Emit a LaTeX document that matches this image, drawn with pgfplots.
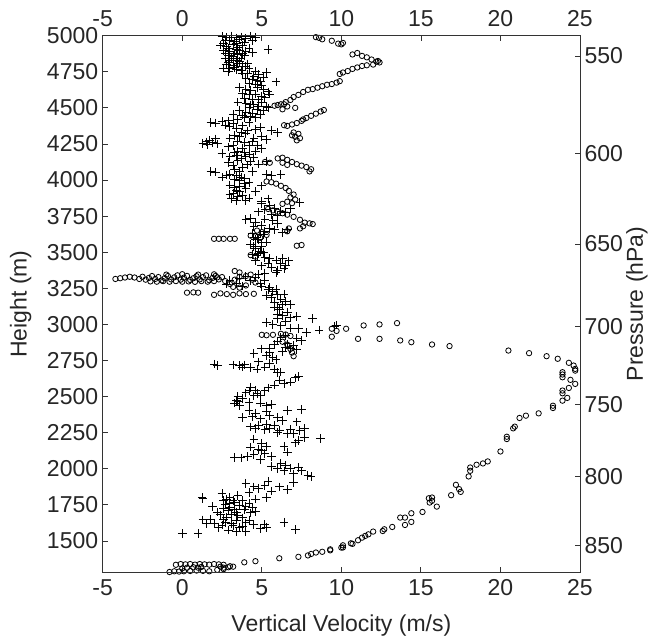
\documentclass[border=0pt]{standalone}
\usepackage{pgfplots}
\usepackage{pgfplotstable}
\pgfplotsset{compat=1.18}
\usepackage{fontspec}
\setmainfont{Liberation Sans}

\pgfplotstableread{
x y
2.5 4995
2.8 4990
3.1 4998
3.4 4985
3.7 4992
4.0 4980
4.3 4996
4.6 4988
2.7 4965
3.0 4970
3.3 4960
3.9 4955
4.4 4965
2.4 4935
2.8 4925
3.2 4940
3.5 4920
3.8 4930
5.4 4905
4.2 4910
2.6 4895
3.0 4890
3.3 4880
3.6 4900
2.9 4865
3.2 4855
3.5 4870
3.9 4860
4.4 4885
2.7 4840
3.0 4830
3.4 4825
3.7 4845
2.8 4800
3.2 4795
3.5 4810
3.8 4790
4.1 4805
2.6 4775
3.0 4770
3.3 4780
3.7 4760
4.2 4770
4.6 4755
2.9 4752
3.8 4740
4.1 4735
4.5 4720
4.8 4730
5.3 4745
4.0 4705
4.4 4700
4.7 4690
5.1 4710
5.9 4680
4.2 4670
4.6 4665
5.0 4655
4.9 4685
3.6 4640
4.0 4630
4.3 4620
4.7 4640
5.1 4625
5.4 4610
3.8 4600
4.2 4590
4.6 4595
5.0 4580
5.5 4595
3.9 4565
4.4 4560
4.8 4555
5.2 4570
3.5 4540
4.0 4530
4.5 4520
5.0 4540
5.3 4510
4.2 4500
4.7 4490
5.1 4485
5.4 4500
3.6 4480
4.0 4470
4.4 4460
4.9 4455
3.2 4455
1.8 4400
2.1 4395
2.5 4405
2.9 4410
3.2 4390
3.5 4420
3.9 4435
4.3 4440
2.7 4380
3.0 4370
3.4 4360
3.8 4375
4.6 4350
4.9 4365
5.6 4345
6.0 4330
4.2 4400
3.3 4310
3.6 4300
4.0 4320
4.5 4290
5.0 4300
5.3 4280
3.5 4270
3.9 4260
4.4 4265
1.3 4255
1.5 4265
1.7 4275
1.9 4260
2.1 4285
2.2 4250
1.6 4245
2.5 4185
2.9 4230
3.2 4240
3.5 4200
3.8 4220
4.2 4180
4.6 4200
3.0 4160
3.4 4170
3.7 4150
4.0 4165
4.5 4155
5.0 4220
2.9 4120
3.2 4100
3.5 4135
3.8 4085
4.1 4105
4.4 4060
4.8 4110
5.3 4130
3.3 4070
3.6 4060
1.8 4060
2.1 4055
2.5 4020
2.8 4035
3.3 4005
3.6 3995
3.9 4010
5.3 4040
5.6 4030
6.2 4040
3.0 3965
3.3 3945
3.6 3955
3.9 3975
4.2 3985
5.0 3960
3.2 3905
3.5 3885
3.8 3895
4.2 3875
4.6 3920
3.4 3930
3.0 3900
4.0 3860
5.0 3850
5.4 3870
5.0 3835
5.5 3825
5.2 3795
5.8 3805
6.2 3785
6.5 3775
7.4 3845
5.6 3760
6.0 3755
6.8 3800
4.8 3780
4.0 3725
4.3 3735
4.6 3705
5.0 3685
5.5 3665
5.8 3655
6.3 3635
6.6 3655
5.2 3645
4.9 3625
4.5 3680
6.0 3700
4.5 3605
4.8 3585
5.0 3565
4.3 3555
4.6 3590
5.1 3620
4.4 3630
4.6 3525
4.9 3505
4.4 3485
4.7 3475
5.2 3465
5.5 3455
4.5 3540
5.0 3540
5.9 3445
6.3 3455
6.7 3440
6.5 3410
5.0 3405
5.6 3395
6.0 3375
6.4 3385
5.2 3355
4.8 3345
5.4 3425
3.0 3305
3.4 3285
3.8 3265
4.3 3305
4.6 3325
4.9 3285
5.2 3305
5.5 3255
4.0 3330
3.6 3320
2.8 3280
5.7 3225
6.0 3205
5.6 3185
6.2 3175
5.8 3155
5.4 3240
6.4 3210
6.3 3135
6.1 3105
6.6 3085
5.8 3120
6.8 3140
7.2 3055
6.0 3070
6.0 3040
6.3 3060
6.8 3045
5.3 3015
5.7 3000
6.2 2990
8.2 3040
9.7 2995
9.6 2985
8.6 2960
7.8 2945
7.3 2970
6.8 2975
7.2 2905
6.5 2920
6.0 2885
6.6 2865
7.0 2855
5.5 2835
7.5 2890
6.2 2910
5.8 2860
6.5 2840
6.8 2830
7.2 2825
5.0 2830
5.3 2785
5.7 2770
5.9 2755
4.5 2800
6.3 2810
5.5 2805
2.0 2725
2.2 2715
3.2 2720
3.6 2715
3.8 2705
4.3 2700
4.7 2690
5.2 2705
6.0 2665
6.2 2670
5.8 2690
7.1 2630
7.3 2640
6.8 2600
6.4 2590
5.8 2580
5.4 2560
4.3 2565
4.6 2545
6.1 2615
4.0 2525
4.5 2505
4.2 2540
3.5 2465
3.3 2455
3.8 2485
4.9 2455
5.3 2435
5.6 2445
4.7 2520
3.4 2475
4.2 2405
4.6 2385
3.8 2355
6.6 2405
7.5 2410
6.0 2355
6.3 2335
7.2 2325
5.3 2395
4.4 2360
5.5 2370
5.3 2310
4.8 2300
5.5 2280
6.1 2265
6.6 2245
5.8 2300
6.8 2275
4.3 2290
7.0 2245
7.4 2265
7.7 2280
4.6 2280
5.2 2270
6.0 2250
7.3 2195
7.7 2215
8.7 2210
4.5 2205
5.0 2175
5.3 2155
6.4 2155
7.1 2180
4.3 2150
4.8 2135
5.2 2105
6.6 2115
3.3 2080
3.7 2075
4.1 2085
4.9 2065
5.6 2085
4.5 2100
5.0 2125
6.2 2035
6.5 2025
6.8 2005
5.6 2015
6.4 1985
7.0 1965
7.5 1985
7.9 1955
8.1 1945
7.3 2010
6.0 2000
5.2 1885
4.8 1865
5.6 1845
6.1 1875
6.6 1855
4.5 1875
4.2 1835
5.4 1910
4.0 1900
7.0 1905
5.3 1800
3.5 1815
3.0 1800
2.6 1780
2.8 1790
1.3 1796
1.25 1800
3.3 1765
3.6 1745
3.8 1780
4.2 1760
4.6 1790
2.5 1830
3.0 1735
2.6 1725
3.9 1715
4.3 1695
4.6 1705
3.1 1685
3.5 1675
2.8 1665
2.2 1700
3.3 1720
4.0 1740
2.9 1710
1.9 1740
3.4 1645
2.7 1625
3.2 1605
3.6 1595
4.0 1625
4.5 1615
4.9 1585
5.2 1615
6.4 1630
7.1 1580
1.3 1646
1.8 1650
1.5 1620
2.3 1595
2.9 1575
3.4 1565
4.0 1565
0.0 1550
1.0 1550
5.3 1595
2.5 1610
2.6 4945
3.4 4945
3.6 4975
2.9 4910
3.4 4905
4.0 4890
2.7 4880
3.8 4875
3.1 4845
3.6 4820
2.9 4815
3.4 4765
4.0 4785
4.3 4520
4.8 4510
3.8 4450
4.6 4430
4.1 4340
3.7 4330
3.0 4290
4.2 4240
4.7 4240
3.3 4190
3.9 4190
4.3 4130
3.0 4040
3.4 4030
3.7 4020
4.0 3940
3.6 3920
3.1 3870
3.4 3860
5.2 3730
5.7 3720
4.7 3600
5.3 3570
4.8 3490
5.1 3500
4.6 3440
5.9 3360
6.2 3420
5.0 3260
5.3 3200
5.9 3240
6.5 3160
6.0 3120
6.5 3020
3.9 2720
4.8 2740
5.5 2730
4.2 2460
3.6 2440
4.9 2510
5.2 2540
3.5 2500
4.9 2345
3.0 1760
3.4 1700
2.4 1680
3.8 1660
2.6 1650
4.2 1640
3.1 1620
2.0 1620
3.8 1600
2.7 1750
3.2 1780
4.4 1730
}\plusdata

\pgfplotstableread{
x y
8.4 4990
8.6 4985
8.8 4975
9.4 4965
9.8 4945
10.0 4940
10.1 4950
10.7 4870
11.0 4880
11.3 4860
11.6 4850
11.9 4835
12.2 4820
12.4 4815
12.3 4825
12.0 4800
11.6 4795
11.3 4790
11.0 4780
10.7 4770
10.4 4755
10.1 4745
9.9 4735
5.8 4515
6.0 4520
6.2 4525
6.5 4540
6.8 4555
7.0 4575
7.3 4590
7.6 4610
7.9 4625
8.2 4630
8.5 4640
8.8 4650
9.1 4660
9.4 4665
9.7 4675
9.9 4685
6.3 4490
6.6 4510
7.1 4500
6.4 4525
6.4 4380
6.6 4375
6.9 4385
7.2 4395
7.5 4410
7.8 4430
8.1 4445
8.4 4460
8.7 4475
8.9 4485
7.6 4420
7.0 4330
7.3 4320
7.1 4300
7.4 4290
7.2 4275
6.9 4310
6.0 4150
6.3 4155
6.6 4140
6.9 4125
7.2 4110
7.5 4100
7.8 4090
8.1 4075
8.0 4060
5.2 4125
5.5 4120
6.3 4120
6.6 4105
5.3 3990
5.6 3985
5.9 3975
6.2 3960
6.5 3945
6.7 3925
7.0 3900
6.8 3880
7.1 3865
6.6 3850
6.9 3840
6.3 3835
5.4 3800
5.7 3790
6.0 3780
6.3 3770
6.6 3760
7.0 3745
7.4 3725
7.7 3705
8.0 3700
8.2 3695
7.6 3680
7.4 3665
6.7 3665
6.6 3645
2.0 3593
2.3 3593
2.6 3593
3.0 3593
3.3 3593
4.3 3615
4.6 3610
4.9 3600
7.2 3545
7.5 3550
4.7 3650
5.0 3640
5.3 3620
4.3 3480
4.6 3470
-4.2 3315
-3.9 3320
-3.6 3325
-3.3 3330
-3.0 3325
-2.7 3315
-2.5 3330
-2.3 3310
-2.1 3322
-1.9 3335
-1.7 3315
-1.5 3328
-1.3 3305
-1.1 3320
-0.9 3335
-0.7 3312
-0.5 3326
-0.3 3340
-0.1 3310
0.1 3324
0.3 3336
0.5 3308
0.7 3320
0.9 3334
1.1 3312
1.3 3328
1.5 3340
1.7 3306
1.9 3322
2.1 3336
2.3 3312
2.5 3328
-2.0 3298
-1.6 3296
-1.2 3300
-0.8 3296
-0.4 3300
0.0 3296
0.4 3298
0.8 3295
1.2 3300
1.6 3296
2.0 3300
-1.0 3345
0.0 3348
1.0 3345
2.0 3347
2.7 3300
3.0 3280
3.3 3310
3.6 3330
4.0 3335
4.3 3345
4.6 3290
3.2 3260
3.6 3255
4.0 3270
4.4 3310
3.3 3370
3.6 3360
2.2 3326
0.3 3220
0.7 3222
1.0 3220
2.0 3205
2.4 3215
2.8 3210
3.2 3205
3.6 3215
4.0 3210
4.5 3212
5.0 2928
5.3 2925
5.7 2928
6.2 2935
6.5 2930
6.8 2920
6.3 2880
6.6 2860
6.8 2830
6.9 2805
7.0 2780
9.4 2970
9.4 2915
9.7 2955
10.3 2970
11.4 2993
12.4 3000
13.5 3009
11.05 2900
12.4 2900
13.7 2889
14.4 2877
15.7 2861
16.8 2850
20.5 2819
21.8 2801
22.9 2780
23.6 2762
24.3 2734
24.6 2715
24.7 2692
24.7 2680
23.9 2669
23.9 2653
23.9 2634
24.4 2616
24.7 2588
24.3 2560
23.9 2542
23.9 2523
24.2 2491
23.9 2472
23.3 2437
23.3 2421
22.4 2384
21.6 2368
21.2 2352
20.9 2292
20.8 2280
20.4 2222
20.4 2206
20.0 2120
19.2 2051
18.9 2037
18.5 2028
18.1 2009
18.1 1986
18.0 1947
17.2 1889
17.4 1859
17.5 1840
16.9 1817
15.7 1801
15.7 1778
16.0 1738
15.55 1766
15.5 1796
15.1 1701
14.4 1692
14.4 1632
14.0 1662
14.0 1611
13.7 1662
13.2 1597
12.7 1581
12.6 1569
12.0 1565
11.7 1546
11.5 1535
11.3 1523
11.05 1505
10.6 1484
10.7 1480
10.1 1470
10.0 1454
10.1 1455
9.3 1442
9.3 1435
8.8 1425
8.4 1420
8.1 1410
7.9 1400
7.3 1390
6.1 1380
4.6 1360
3.9 1352
3.0 1325
2.9 1318
3.2 1322
2.6 1315
2.4 1322
-0.8 1285
-0.5 1290
-0.2 1288
0.1 1290
0.5 1292
0.9 1295
1.3 1293
1.7 1290
2.2 1300
2.6 1305
-0.4 1335
-0.1 1340
0.2 1338
0.5 1340
0.8 1336
1.1 1340
1.4 1338
1.7 1336
2.0 1340
2.3 1338
2.6 1335
0.0 1310
0.3 1315
0.7 1318
1.0 1315
1.2 1320
}\circdata

\begin{document}
\begin{tikzpicture}
\pgfplotsset{
  every axis/.append style={
    scale only axis, width=477.3pt, height=536.6pt,
    xmin=-5, xmax=25, ymin=1283, ymax=5000,
    axis line style={black!80, line width=0.8pt},
    tick style={black!80, line width=0.8pt},
    tick align=inside, major tick length=5pt,
    font=\fontsize{23}{26}\selectfont,
    tick label style={font=\fontsize{23}{26}\selectfont, text=black!85},
    label style={font=\fontsize{23}{26}\selectfont, text=black!85},
    xtick={-5,0,5,10,15,20,25},
    xticklabels={-5,0,5,10,15,20,25},
  }
}
\begin{axis}[name=ax,
  xtick pos=lower, xticklabel pos=lower,
  ytick pos=left, yticklabel pos=left,
  ytick={1500,1750,2000,2250,2500,2750,3000,3250,3500,3750,4000,4250,4500,4750,5000},
  yticklabels={1500,1750,2000,2250,2500,2750,3000,3250,3500,3750,4000,4250,4500,4750,5000},
  xticklabel style={yshift=-4pt},
  yticklabel style={xshift=-1pt},
  xlabel={Vertical Velocity (m/s)},
  ylabel={Height (m)},
  xlabel style={at={(axis description cs:0.5,0)}, anchor=base, yshift=-59pt},
  ylabel style={at={(axis description cs:-0.172,0.5)}, anchor=center},
  clip=false,
]
\addplot[only marks, mark=+, mark size=4.3pt, mark options={line width=1pt, black}] table[x=x,y=y]{\plusdata};
\addplot[only marks, mark=o, mark size=2.7pt, mark options={line width=0.8pt, black}] table[x=x,y=y]{\circdata};
\end{axis}
\begin{axis}[
  xtick pos=upper, xticklabel pos=upper,
  ytick pos=right, yticklabel pos=right,
  ytick={4859.4,4185,3557,2984,2447,1945,1467},
  yticklabels={550,600,650,700,750,800,850},
  xticklabel style={yshift=5pt},
  yticklabel style={xshift=1pt},
  ylabel={Pressure (hPa)},
  ylabel style={at={(axis description cs:1.1195,0.5)}, anchor=center},
]
\addplot[draw=none] coordinates {(0,2000)};
\end{axis}
\pgfresetboundingbox
\path[use as bounding box] (ax.south west) ++(-102.7pt,-66.7pt) rectangle ([shift={(76pt,35.7pt)}]ax.north east);
\end{tikzpicture}
\end{document}
